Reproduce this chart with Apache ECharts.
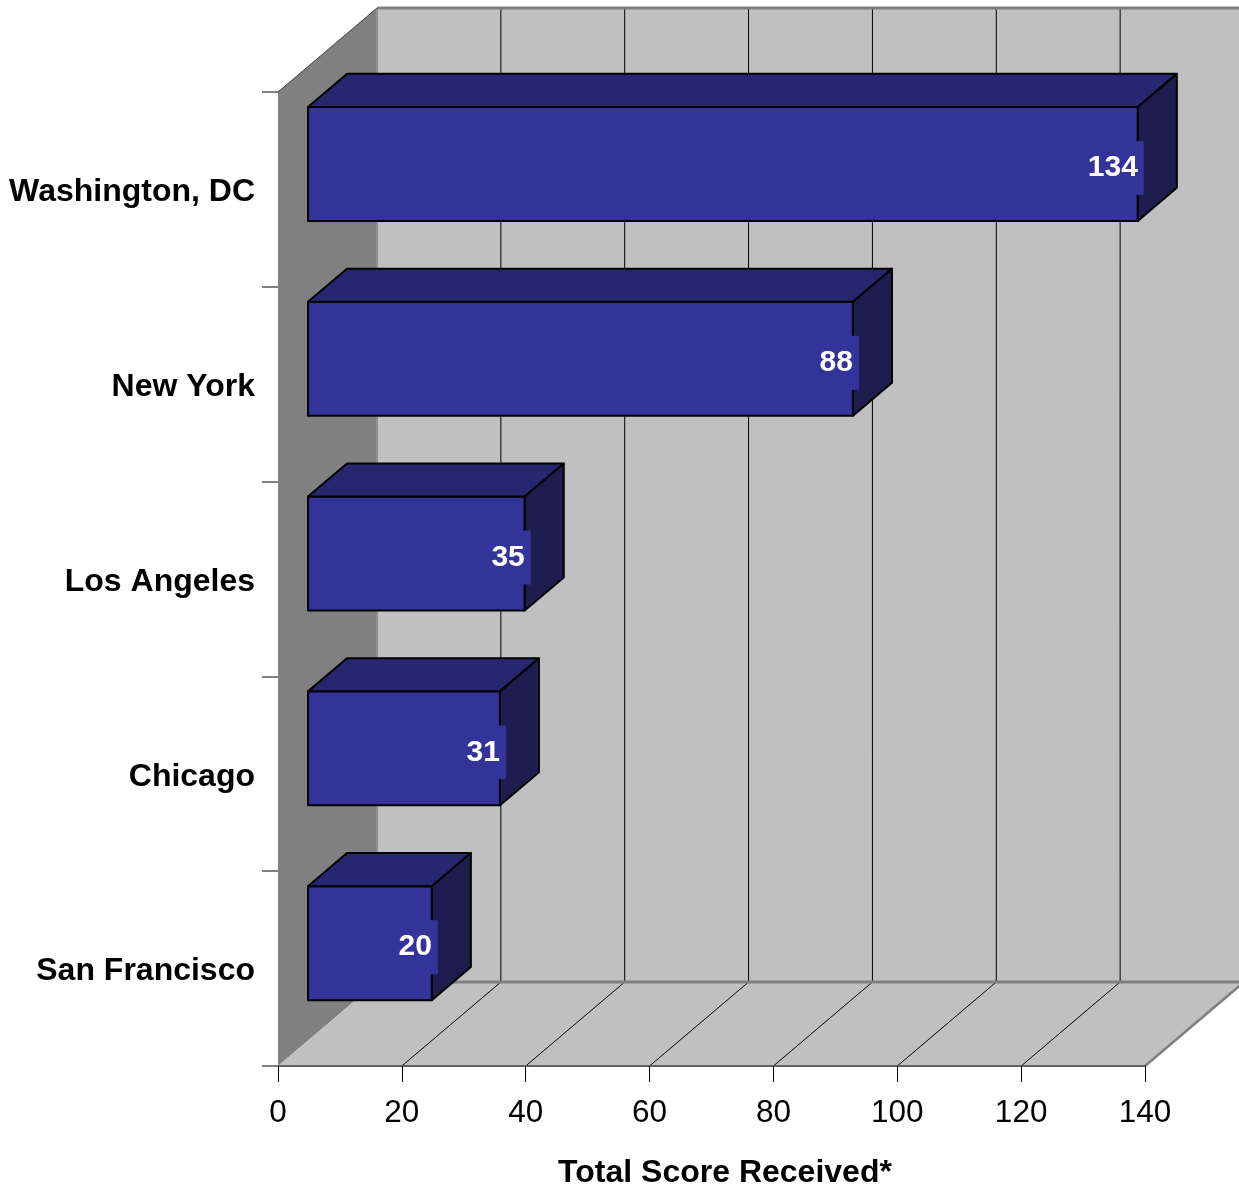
<!DOCTYPE html>
<html>
<head>
<meta charset="utf-8">
<script src="https://cdn.jsdelivr.net/npm/echarts@6/dist/echarts.min.js"></script>
<style>
html,body{margin:0;padding:0;background:#fff;}
#chart{width:1239px;height:1190px;}
</style>
</head>
<body>
<div id="chart"></div>
<script>
const categories = ['Washington, DC', 'New York', 'Los Angeles', 'Chicago', 'San Francisco'];
const scores = [134, 88, 35, 31, 20];
const xTicks = [0, 20, 40, 60, 80, 100, 120, 140];
const axisTitle = 'Total Score Received*';

const FONT = 'Liberation Sans, Arial, sans-serif';
const DX = 99, DY = -84;      // depth offset of the back wall
const F0 = 0.303, F1 = 0.697; // bar front / back depth fractions
const BAR = 0.585;            // bar thickness as fraction of band

function renderWalls(params, api) {
  const cs = params.coordSys;
  const top = cs.y, bot = cs.y + cs.height;
  const xl = api.coord([xTicks[0], 0])[0];
  const xr = api.coord([xTicks[xTicks.length - 1], 0])[0];
  const ch = [];
  ch.push({type: 'polygon', shape: {points: [[xl + DX, top + DY], [xr + DX, top + DY], [xr + DX, bot + DY], [xl + DX, bot + DY]]}, style: {fill: '#c0c0c0'}});
  ch.push({type: 'polygon', shape: {points: [[xl, top], [xl + DX, top + DY], [xl + DX, bot + DY], [xl, bot]]}, style: {fill: '#808080'}});
  ch.push({type: 'polygon', shape: {points: [[xl, bot], [xl + DX, bot + DY], [xr + DX, bot + DY], [xr, bot]]}, style: {fill: '#c0c0c0'}});
  for (let i = 1; i < xTicks.length - 1; i++) {
    const x = api.coord([xTicks[i], 0])[0];
    ch.push({type: 'line', shape: {x1: x + DX, y1: top + DY, x2: x + DX, y2: bot + DY}, style: {stroke: '#000', lineWidth: 1}});
    ch.push({type: 'line', shape: {x1: x, y1: bot, x2: x + DX, y2: bot + DY}, style: {stroke: '#000', lineWidth: 1}});
  }
  // edges
  ch.push({type: 'line', shape: {x1: xl + DX, y1: top + DY, x2: xl + DX, y2: bot + DY}, style: {stroke: '#909090', lineWidth: 2}});
  ch.push({type: 'line', shape: {x1: xl + DX, y1: top + DY, x2: xr + DX + 5, y2: top + DY}, style: {stroke: '#808080', lineWidth: 3}});
  ch.push({type: 'line', shape: {x1: xl + DX, y1: bot + DY, x2: xr + DX + 5, y2: bot + DY}, style: {stroke: '#808080', lineWidth: 3}});
  ch.push({type: 'line', shape: {x1: xl, y1: top, x2: xl + DX, y2: top + DY}, style: {stroke: '#404040', lineWidth: 1}});
  ch.push({type: 'line', shape: {x1: xr, y1: bot, x2: xr + DX, y2: bot + DY}, style: {stroke: '#808080', lineWidth: 2.5}});
  return {type: 'group', children: ch};
}

function renderBar(params, api) {
  const v = api.value(0), idx = api.value(1);
  const p0 = api.coord([0, idx]);
  const p1 = api.coord([v, idx]);
  const h = api.size([0, 1])[1] * BAR;
  const xa = p0[0] + F0 * DX, xb = p1[0] + F0 * DX;
  const yt = p0[1] - h / 2 + F0 * DY, yb = yt + h;
  const ddx = (F1 - F0) * DX, ddy = (F1 - F0) * DY;
  const edge = {stroke: '#000', lineWidth: 2, lineJoin: 'round'};
  return {
    type: 'group',
    children: [
      {type: 'polygon', shape: {points: [[xa, yt], [xb, yt], [xb, yb], [xa, yb]]}, style: Object.assign({fill: '#333399'}, edge)},
      {type: 'polygon', shape: {points: [[xa, yt], [xa + ddx, yt + ddy], [xb + ddx, yt + ddy], [xb, yt]]}, style: Object.assign({fill: '#27276f'}, edge)},
      {type: 'polygon', shape: {points: [[xb, yt], [xb + ddx, yt + ddy], [xb + ddx, yb + ddy], [xb, yb]]}, style: Object.assign({fill: '#1d1d50'}, edge)},
      {type: 'text', z2: 10, style: {
        text: String(v), x: xb + 6, y: (yt + yb) / 2 + 4,
        align: 'right', verticalAlign: 'middle',
        fill: '#fff', font: 'bold 30px ' + FONT, lineHeight: 30,
        backgroundColor: '#333399', padding: [12, 6, 12, 6]
      }}
    ]
  };
}

const chart = echarts.init(document.getElementById('chart'));
chart.setOption({
  backgroundColor: '#fff',
  animation: false,
  grid: {left: 278, right: 94, top: 92, bottom: 124, show: false, containLabel: false, outerBoundsMode: 'none'},
  xAxis: {
    type: 'value', min: xTicks[0], max: xTicks[xTicks.length - 1], interval: 20,
    z: 5,
    splitLine: {show: false},
    axisLine: {show: true, lineStyle: {color: '#606060', width: 2}},
    axisTick: {show: true, length: 16, lineStyle: {color: '#000', width: 1}},
    axisLabel: {margin: 31, color: '#000', fontSize: 31.5, fontFamily: FONT},
    name: axisTitle, nameLocation: 'middle', nameGap: 91,
    nameTextStyle: {color: '#000', fontSize: 32, fontWeight: 'bold', fontFamily: FONT, padding: [0, 0, 0, 27]}
  },
  yAxis: {
    type: 'category', data: categories, inverse: true,
    z: 5,
    axisLine: {show: false},
    axisTick: {show: true, length: 16, lineStyle: {color: '#808080', width: 2}},
    splitLine: {show: false},
    axisLabel: {
      margin: 23, color: '#000', fontSize: 32, fontWeight: 'bold', fontFamily: FONT,
      formatter: function (v) { return '{c|' + v + '}'; },
      rich: {c: {color: '#000', fontSize: 32, fontWeight: 'bold', fontFamily: FONT, lineHeight: 32, padding: [6, 0, 0, 0]}}
    }
  },
  series: [
    {type: 'custom', z: 1, clip: false, silent: true, renderItem: renderWalls, data: [[0, 0]]},
    {type: 'custom', z: 2, clip: false, renderItem: renderBar, data: scores.map((s, i) => [s, i])}
  ]
});
</script>
</body>
</html>
